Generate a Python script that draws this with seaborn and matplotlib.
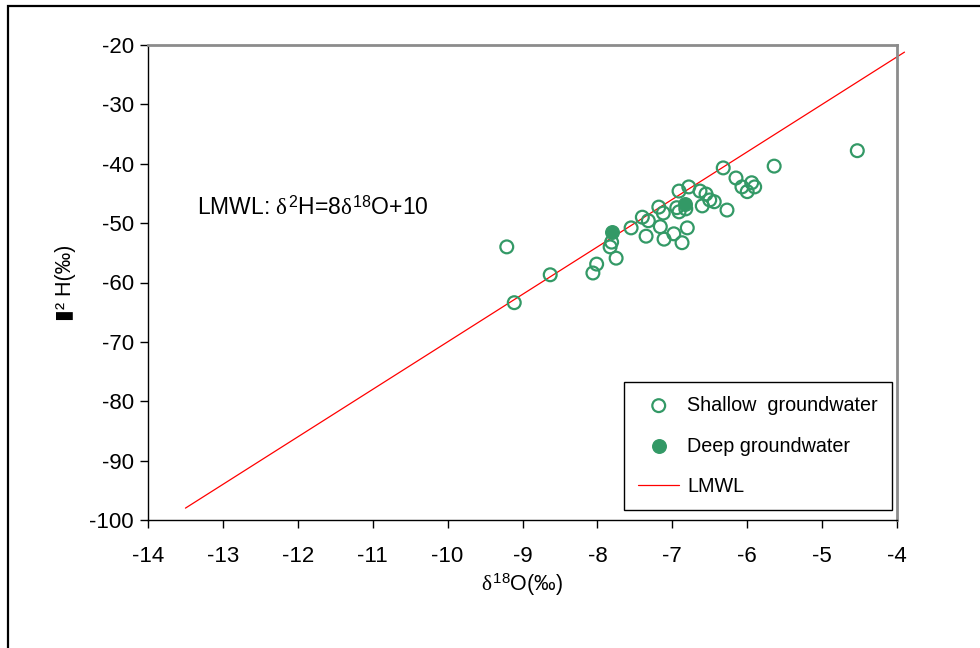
import numpy as np
import pandas as pd
import matplotlib
matplotlib.use("Agg")
import matplotlib.pyplot as plt
from matplotlib.patches import Rectangle
import seaborn as sns

# ------------------------
# data
# ------------------------
shallow_d18o = [-9.21, -9.11, -8.63, -8.06, -8.01, -7.81, -7.83, -7.75, -7.55, -7.40,
                -7.32, -7.35, -7.18, -7.12, -7.16, -7.11, -6.98, -6.87, -6.80, -6.94,
                -6.91, -6.91, -6.82, -6.78, -6.63, -6.55, -6.60, -6.50, -6.44, -6.27,
                -6.32, -6.15, -6.07, -6.00, -5.94, -5.90, -5.64, -4.53]
shallow_d2h = [-54.0, -63.4, -58.7, -58.4, -56.9, -53.2, -54.0, -55.9, -50.8, -49.0,
               -49.6, -52.2, -47.3, -48.3, -50.6, -52.7, -51.8, -53.3, -50.8, -47.4,
               -48.1, -44.6, -47.6, -43.9, -44.6, -45.1, -47.1, -46.1, -46.4, -47.8,
               -40.7, -42.4, -43.9, -44.7, -43.2, -43.9, -40.4, -37.8]

deep_d18o = [-7.81, -6.83]
deep_d2h = [-51.5, -46.8]

# LMWL: d2H = 8 * d18O + 10
lmwl_x = np.array([-13.5, -3.9])
lmwl_y = 8 * lmwl_x + 10

x_ticks = list(range(-14, -3))
y_ticks = list(range(-100, -19, 10))

GREEN = "#339966"

# ------------------------
# style
# ------------------------
sns.set_style("white")
plt.rcParams["font.family"] = ["Liberation Sans", "DejaVu Sans"]
plt.rcParams["axes.unicode_minus"] = False
plt.rcParams["mathtext.fontset"] = "custom"
plt.rcParams["mathtext.rm"] = "Liberation Sans"
plt.rcParams["mathtext.it"] = "Liberation Serif"
plt.rcParams["text.color"] = "black"
plt.rcParams["axes.labelcolor"] = "black"
plt.rcParams["xtick.color"] = "black"
plt.rcParams["ytick.color"] = "black"

fig = plt.figure(figsize=(9.8, 6.48), dpi=100)
ax = fig.add_axes([148 / 980, 1 - 520 / 648, 749 / 980, 475 / 648])

shallow = pd.DataFrame({"d18O": shallow_d18o, "d2H": shallow_d2h})
deep = pd.DataFrame({"d18O": deep_d18o, "d2H": deep_d2h})

sns.lineplot(x=lmwl_x, y=lmwl_y, ax=ax, color="red", linewidth=0.9,
             label="LMWL", clip_on=False, zorder=2)
sns.scatterplot(data=shallow, x="d18O", y="d2H", ax=ax, marker="o", s=85,
                facecolors="none", edgecolors=GREEN, linewidths=1.6,
                label="Shallow  groundwater", zorder=3)
sns.scatterplot(data=deep, x="d18O", y="d2H", ax=ax, marker="o", s=95,
                color=GREEN, edgecolor=GREEN, linewidth=1.0,
                label="Deep groundwater", zorder=4)

ax.set_xlim(-14, -4)
ax.set_ylim(-100, -20)
ax.set_xticks(x_ticks)
ax.set_yticks(y_ticks)
ax.tick_params(axis="both", direction="out", length=6, width=1, color="black",
               labelsize=16, bottom=True, left=True)
ax.tick_params(axis="x", pad=13)
ax.tick_params(axis="y", pad=4)

for side in ["left", "bottom"]:
    ax.spines[side].set_color("black")
    ax.spines[side].set_linewidth(1.0)
for side in ["top", "right"]:
    ax.spines[side].set_color("#8c8c8c")
    ax.spines[side].set_linewidth(2.0)

ax.set_xlabel(r"$\delta^{18}$O(‰)", fontsize=15.5, labelpad=3)
ax.set_ylabel("▮² H(‰)", fontsize=15.5, labelpad=10)

ax.text(-13.35, -47.4, r"LMWL: $\delta^{2}$H=8$\delta^{18}$O+10",
        fontsize=16.5, va="center", ha="left")

# legend in the order shown
handles, labels = ax.get_legend_handles_labels()
order = [labels.index("Shallow  groundwater"), labels.index("Deep groundwater"),
         labels.index("LMWL")]
leg = ax.legend([handles[i] for i in order], [labels[i] for i in order],
                loc="lower right", bbox_to_anchor=(0.993, 0.021),
                fontsize=14.2, frameon=True, fancybox=False, edgecolor="black",
                framealpha=1, borderpad=0.7, labelspacing=1.1,
                handlelength=2.1, handletextpad=0.4, borderaxespad=0)
leg.get_frame().set_linewidth(1.0)

# outer chart-area border
fig.patches.append(Rectangle((8 / 980, -0.1), 1.2, 1.1 - 6 / 648,
                             transform=fig.transFigure, fill=False,
                             edgecolor="black", linewidth=1.6))

fig.savefig("out.png", dpi=100)
